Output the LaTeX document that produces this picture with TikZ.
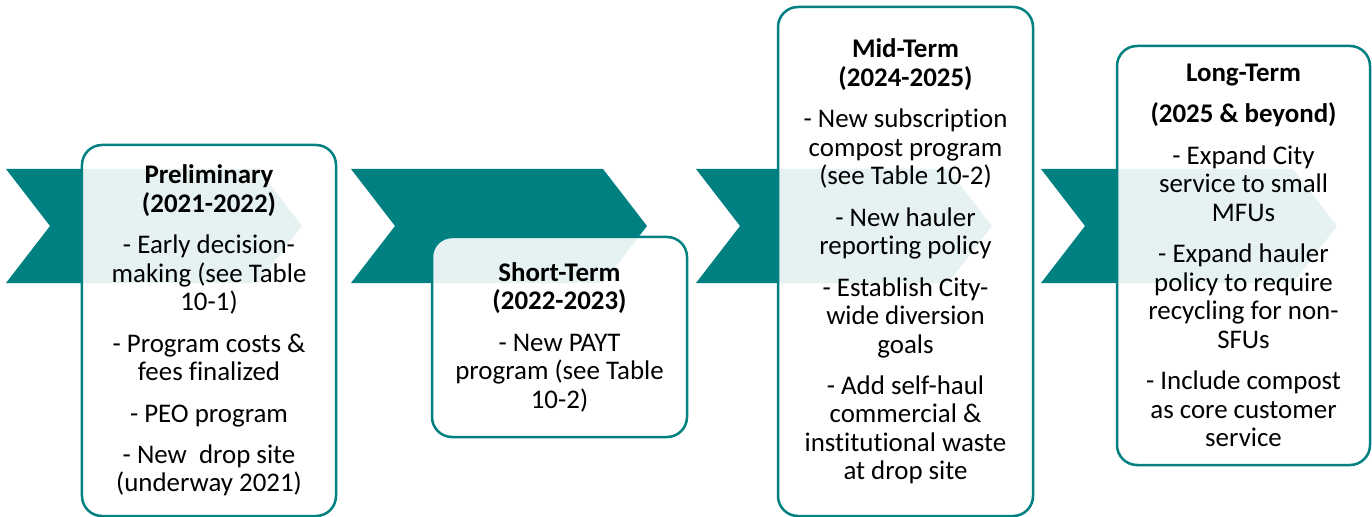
\documentclass[tikz,border=0pt]{standalone}
\usepackage{fontspec}
\setmainfont{Carlito}[Ligatures=CommonOff]
\usetikzlibrary{calc}
\definecolor{tealmain}{RGB}{0,128,128}
\newcommand{\pgap}{\\[13bp]}

\begin{document}
\begin{tikzpicture}[x=1bp, y=-1bp,
  phase/.style={draw=tealmain, line width=2.5bp, rounded corners=20bp, fill=white, fill opacity=.9, text opacity=1,
    align=center, inner sep=0pt, font=\fontsize{27}{28.6}\selectfont}]
\useasboundingbox (0,0) rectangle (1372,517);
\foreach \x in {6,351,696,1041} {
 \fill[tealmain] (\x,169) --++(252,0) --++(44,57) --++(-44,57) --++(-252,0) --++(44,-57) -- cycle;
}
\node[phase, minimum width=254bp, minimum height=371bp] (prelim) at (209,330.5)
 {\textbf{Preliminary}\\ \textbf{(2021-2022)}\pgap
  - Early decision-\\ making (see Table\\ 10-1)\pgap
  - Program costs \&\\ fees finalized\pgap
  - PEO program\pgap
  - New\ \ drop site\\ (underway 2021)};
\node[phase, minimum width=255bp, minimum height=200bp] (short) at (559.5,337)
 {\textbf{Short-Term}\\ \textbf{(2022-2023)}\pgap
  - New PAYT\\ program (see Table\\ 10-2)};
\node[phase, minimum width=255bp, minimum height=509bp] (mid) at (905.5,261.5)
 {\textbf{Mid-Term}\\ \textbf{(2024-2025)}\pgap
  - New subscription\\ compost program\\ (see Table 10-2)\pgap
  - New hauler\\ reporting policy\pgap
  - Establish City-\\ wide diversion\\ goals\pgap
  - Add self-haul\\ commercial \&\\ institutional waste\\ at drop site};
\node[phase, minimum width=253bp, minimum height=419bp] (long) at (1243.5,255.5)
 {\textbf{Long-Term}\pgap \textbf{(2025 \& beyond)}\pgap
  - Expand City\\ service to small\\ MFUs\pgap
  - Expand hauler\\ policy to require\\ recycling for non-\\ SFUs\pgap
  - Include compost\\ as core customer\\ service};
\end{tikzpicture}
\end{document}
